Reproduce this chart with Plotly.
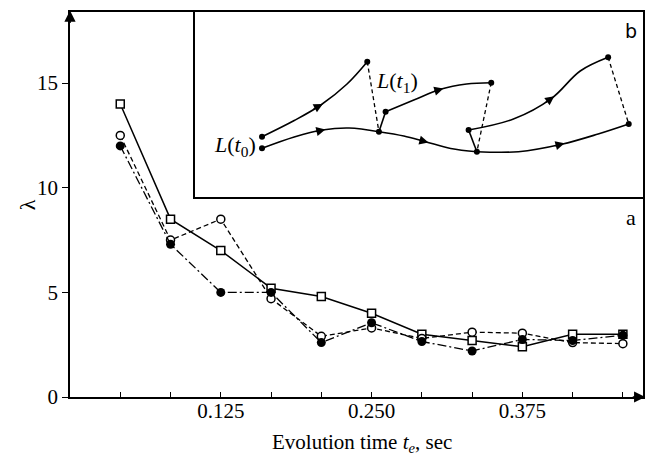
import plotly.graph_objects as go

# ---------------- data (panel a) ----------------
t_e = [1/24, 2/24, 3/24, 4/24, 5/24, 6/24, 7/24, 8/24, 9/24, 10/24, 11/24]
lam_squares = [14.0, 8.5, 7.0, 5.2, 4.8, 4.0, 3.0, 2.7, 2.4, 3.0, 3.0]
lam_open = [12.5, 7.5, 8.5, 4.7, 2.9, 3.3, 2.8, 3.1, 3.05, 2.6, 2.55]
lam_filled = [12.0, 7.3, 5.0, 5.0, 2.6, 3.55, 2.65, 2.2, 2.75, 2.7, 2.95]

x_tickvals = t_e
x_ticktext = ["", "", "0.125", "", "", "0.250", "", "", "0.375", "", ""]
y_tickvals = [0, 5, 10, 15]
y_ticktext = ["0", "5", "10", "15"]

# ---------------- schematic (panel b), in inset units ----------------
upper1_x = [262.7, 295, 321.7, 348, 368.3]
upper1_y = [136.7, 120.5, 105, 84, 61.7]
lower1_x = [262.7, 295, 323.3, 350, 380]
lower1_y = [148.3, 137, 130, 128, 131.7]
upper2_x = [386.7, 415, 441.7, 468, 492.7]
upper2_y = [111.7, 100, 89.3, 84, 82.7]
lower2_x = [380, 405, 426.7, 452, 478.3]
lower2_y = [131.7, 136, 141.7, 148.5, 151.7]
upper3_x = [470, 515, 553.3, 582, 610]
upper3_y = [130, 119, 98.3, 71, 57.3]
lower3_x = [478.3, 520, 563.3, 600, 630.7]
lower3_y = [151.7, 151.7, 144.3, 134, 124]
conn_x = [[380, 386.7], [478.3, 470]]
conn_y = [[131.7, 111.7], [151.7, 130]]
dash_x = [[368.3, 380], [492.7, 478.3], [610, 630.7]]
dash_y = [[61.7, 131.7], [82.7, 151.7], [57.3, 124]]
dots_x = [262.7, 262.7, 368.3, 380, 386.7, 492.7, 478.3, 470, 610, 630.7]
dots_y = [136.7, 148.3, 61.7, 131.7, 111.7, 82.7, 151.7, 130, 57.3, 124]
# arrow heads: (head x, head y, tail x, tail y)
arrows = [
    (323.7, 103.9, 313, 109.6),
    (326.3, 129.4, 315, 132),
    (444.7, 88.5, 434, 91.6),
    (429.7, 142.5, 419, 139.7),
    (556, 96.3, 546, 103.5),
    (566.3, 143.3, 555, 146.3),
]

FONT = "Liberation Serif"
BLACK = "black"

fig = go.Figure()

fig.add_trace(go.Scatter(
    x=t_e, y=lam_squares, mode="lines+markers",
    line=dict(color=BLACK, width=1.5),
    marker=dict(symbol="square", size=8, color="white", line=dict(color=BLACK, width=1.5)),
    showlegend=False))
fig.add_trace(go.Scatter(
    x=t_e, y=lam_open, mode="lines+markers",
    line=dict(color=BLACK, width=1.3, dash="5px,3px"),
    marker=dict(symbol="circle", size=8, color="white", line=dict(color=BLACK, width=1.5)),
    showlegend=False))
fig.add_trace(go.Scatter(
    x=t_e, y=lam_filled, mode="lines+markers",
    line=dict(color=BLACK, width=1.3, dash="9px,3px,2px,3px"),
    marker=dict(symbol="circle", size=9, color=BLACK),
    showlegend=False))

# inset schematic
for xs, ys in [(upper1_x, upper1_y), (lower1_x, lower1_y), (upper2_x, upper2_y),
               (lower2_x, lower2_y), (upper3_x, upper3_y), (lower3_x, lower3_y)]:
    fig.add_trace(go.Scatter(x=xs, y=ys, mode="lines", xaxis="x2", yaxis="y2",
                             line=dict(color=BLACK, width=1.6, shape="spline", smoothing=1.0),
                             showlegend=False, hoverinfo="skip"))
for xs, ys in zip(conn_x, conn_y):
    fig.add_trace(go.Scatter(x=xs, y=ys, mode="lines", xaxis="x2", yaxis="y2",
                             line=dict(color=BLACK, width=1.6), showlegend=False, hoverinfo="skip"))
for xs, ys in zip(dash_x, dash_y):
    fig.add_trace(go.Scatter(x=xs, y=ys, mode="lines", xaxis="x2", yaxis="y2",
                             line=dict(color=BLACK, width=1.3, dash="4px,3px"),
                             showlegend=False, hoverinfo="skip"))
fig.add_trace(go.Scatter(x=dots_x, y=dots_y, mode="markers", xaxis="x2", yaxis="y2",
                         marker=dict(color=BLACK, size=6), showlegend=False, hoverinfo="skip"))

annotations = []
for hx, hy, tx, ty in arrows:
    annotations.append(dict(x=hx, y=hy, ax=tx, ay=ty, xref="x2", yref="y2", axref="x2", ayref="y2",
                            showarrow=True, arrowhead=2, arrowsize=1.3, arrowwidth=1.4,
                            arrowcolor=BLACK, text=""))

annotations += [
    dict(x=259, y=146, xref="x2", yref="y2", xanchor="right", yanchor="middle",
         text="<i>L</i>(<i>t</i><sub>0</sub>)", showarrow=False,
         font=dict(family=FONT, size=22, color=BLACK)),
    dict(x=375, y=82, xref="x2", yref="y2", xanchor="left", yanchor="middle",
         text="<i>L</i>(<i>t</i><sub>1</sub>)", showarrow=False,
         font=dict(family=FONT, size=22, color=BLACK)),
    dict(x=633, y=31, xref="x2", yref="y2", xanchor="center", yanchor="middle",
         text="b", showarrow=False, font=dict(family="DejaVu Sans", size=19, color=BLACK)),
    dict(x=(633 - 70) / 575, y=(397 - 218) / 385, xref="paper", yref="paper",
         xanchor="center", yanchor="middle", text="a", showarrow=False,
         font=dict(family=FONT, size=22, color=BLACK)),
    dict(x=(363 - 70) / 575, y=(397 - 443) / 385, xref="paper", yref="paper",
         xanchor="center", yanchor="middle", text="Evolution time <i>t<sub>e</sub></i>, sec",
         showarrow=False, font=dict(family=FONT, size=21, color=BLACK)),
    dict(x=(27 - 70) / 575, y=(397 - 205) / 385, xref="paper", yref="paper",
         xanchor="center", yanchor="middle", text="λ", textangle=-90,
         showarrow=False, font=dict(family=FONT, size=22, color=BLACK)),
    # axis arrows
    dict(x=1.004, y=0, xref="paper", yref="paper", ax=-14, ay=0, showarrow=True,
         arrowhead=2, arrowsize=1.4, arrowwidth=1.6, arrowcolor=BLACK, text=""),
    dict(x=0, y=1.004, xref="paper", yref="paper", ax=0, ay=14, showarrow=True,
         arrowhead=2, arrowsize=1.4, arrowwidth=1.6, arrowcolor=BLACK, text=""),
]

fig.update_layout(
    width=651, height=457,
    margin=dict(l=70, r=6, t=12, b=60),
    paper_bgcolor="white", plot_bgcolor="white",
    font=dict(family=FONT, size=21, color=BLACK),
    xaxis=dict(range=[0, 0.475], tickvals=x_tickvals, ticktext=x_ticktext,
               ticks="inside", ticklen=5, tickwidth=1.3, tickcolor=BLACK,
               showline=True, linecolor=BLACK, linewidth=1.8, mirror=True,
               showgrid=False, zeroline=False, ticklabelstandoff=-6,
               tickfont=dict(family=FONT, size=21, color=BLACK)),
    yaxis=dict(range=[0, 18.4], tickvals=y_tickvals, ticktext=y_ticktext,
               ticks="outside", ticklen=6, tickwidth=1.3, tickcolor=BLACK,
               showline=True, linecolor=BLACK, linewidth=1.8, mirror=True,
               showgrid=False, zeroline=False, ticklabelstandoff=0,
               tickfont=dict(family=FONT, size=21, color=BLACK)),
    xaxis2=dict(domain=[(195 - 70) / 575, 1], range=[195, 645], anchor="y2",
                showline=True, linecolor=BLACK, linewidth=1.6, mirror=True,
                showticklabels=False, ticks="", showgrid=False, zeroline=False),
    yaxis2=dict(domain=[(397 - 197) / 385, 1], range=[197, 12], anchor="x2",
                showline=True, linecolor=BLACK, linewidth=1.6, mirror=True,
                showticklabels=False, ticks="", showgrid=False, zeroline=False),
    annotations=annotations,
)

fig.write_html("out.html", config={"displayModeBar": False},
               post_script="document.body.style.margin='0';document.body.style.overflow='hidden';")
